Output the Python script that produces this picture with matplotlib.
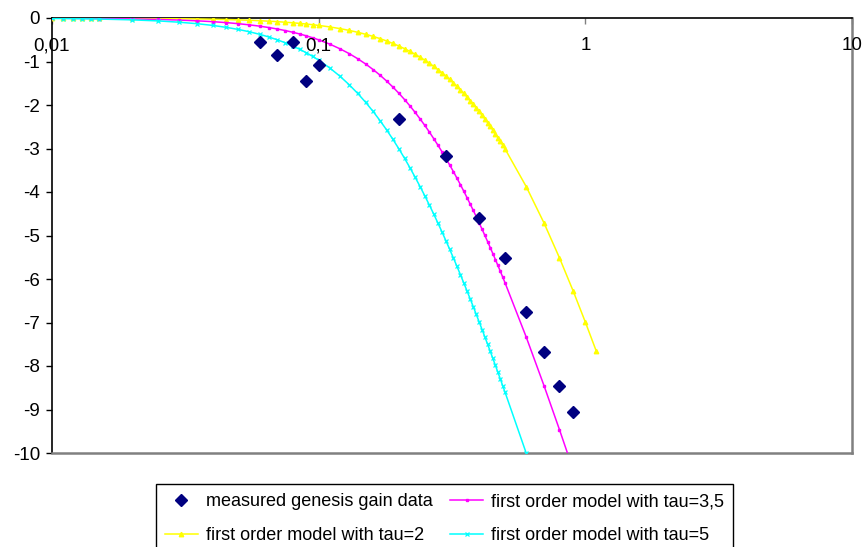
import matplotlib
matplotlib.use("Agg")
import matplotlib.pyplot as plt
import matplotlib.transforms as mtransforms

plt.rcParams['font.family'] = ['Liberation Sans', 'DejaVu Sans']

# ---- data ----
meas_x = [0.06, 0.07, 0.08, 0.09, 0.1, 0.2, 0.3, 0.4, 0.5, 0.6, 0.7, 0.8, 0.9]
meas_y = [-0.55, -0.85, -0.55, -1.45, -1.08, -2.32, -3.17, -4.60, -5.52, -6.76, -7.68, -8.46, -9.05]

model_x = [0.01, 0.011, 0.012, 0.013, 0.014, 0.015, 0.02, 0.025, 0.03, 0.035,
           0.04, 0.045, 0.05, 0.055, 0.06, 0.065, 0.07, 0.075, 0.08, 0.085,
           0.09, 0.095, 0.1, 0.11, 0.12, 0.13, 0.14, 0.15, 0.16, 0.17,
           0.18, 0.19, 0.2, 0.21, 0.22, 0.23, 0.24, 0.25, 0.26, 0.27,
           0.28, 0.29, 0.3, 0.31, 0.32, 0.33, 0.34, 0.35, 0.36, 0.37,
           0.38, 0.39, 0.4, 0.41, 0.42, 0.43, 0.44, 0.45, 0.46, 0.47,
           0.48, 0.49, 0.5, 0.6, 0.7, 0.8, 0.9, 1.0, 1.1]

tau2_y = [-0.002, -0.002, -0.003, -0.003, -0.003, -0.004, -0.007, -0.011, -0.016, -0.021,
          -0.028, -0.035, -0.043, -0.052, -0.062, -0.073, -0.084, -0.097, -0.110, -0.124,
          -0.139, -0.154, -0.170, -0.205, -0.243, -0.284, -0.328, -0.374, -0.423, -0.475,
          -0.529, -0.586, -0.645, -0.706, -0.769, -0.834, -0.901, -0.969, -1.039, -1.111,
          -1.185, -1.259, -1.335, -1.413, -1.491, -1.570, -1.651, -1.732, -1.814, -1.897,
          -1.980, -2.064, -2.148, -2.233, -2.319, -2.405, -2.491, -2.577, -2.663, -2.750,
          -2.837, -2.923, -3.010, -3.874, -4.713, -5.515, -6.274, -6.990, -7.664]

tau35_x = model_x[:67]
tau35_y = [-0.005, -0.006, -0.008, -0.009, -0.010, -0.012, -0.021, -0.033, -0.048, -0.065,
           -0.084, -0.106, -0.131, -0.158, -0.187, -0.219, -0.253, -0.289, -0.328, -0.368,
           -0.411, -0.455, -0.502, -0.600, -0.706, -0.817, -0.935, -1.057, -1.185, -1.316,
           -1.452, -1.590, -1.732, -1.876, -2.022, -2.170, -2.319, -2.469, -2.620, -2.772,
           -2.923, -3.075, -3.227, -3.379, -3.530, -3.681, -3.831, -3.980, -4.129, -4.277,
           -4.423, -4.569, -4.713, -4.856, -4.998, -5.139, -5.278, -5.417, -5.553, -5.689,
           -5.823, -5.956, -6.088, -7.332, -8.453, -9.465, -10.383]

tau5_x = model_x[:64]
tau5_y = [-0.011, -0.013, -0.016, -0.018, -0.021, -0.024, -0.043, -0.067, -0.097, -0.131,
          -0.170, -0.215, -0.263, -0.317, -0.374, -0.436, -0.502, -0.571, -0.645, -0.721,
          -0.801, -0.884, -0.969, -1.148, -1.335, -1.531, -1.732, -1.938, -2.148, -2.362,
          -2.577, -2.793, -3.010, -3.227, -3.444, -3.660, -3.874, -4.087, -4.298, -4.506,
          -4.713, -4.917, -5.119, -5.318, -5.515, -5.708, -5.900, -6.088, -6.274, -6.457,
          -6.637, -6.815, -6.990, -7.162, -7.332, -7.499, -7.664, -7.826, -7.986, -8.144,
          -8.299, -8.453, -8.603, -10.000]

xtick_vals = [0.01, 0.1, 1, 10]
xtick_labels = ["0,01", "0,1", "1", "10"]
ytick_vals = [0, -1, -2, -3, -4, -5, -6, -7, -8, -9, -10]
ytick_labels = ["0", "-1", "-2", "-3", "-4", "-5", "-6", "-7", "-8", "-9", "-10"]

labels = ["measured genesis gain data", "first order model with tau=2",
          "first order model with tau=3,5", "first order model with tau=5"]

# ---- figure ----
fig = plt.figure(figsize=(8.66, 5.47), dpi=100)
ax = fig.add_axes([52/866, 1-453/547, 800/866, 435/547])

h_meas, = ax.plot(meas_x, meas_y, linestyle='none', marker='D', markersize=6.5,
                  color='#000080', zorder=5)
h2, = ax.plot(model_x, tau2_y, color='#FFFF00', lw=1.1, marker='^', markersize=3.2,
              zorder=3)
h35, = ax.plot(tau35_x, tau35_y, color='#FF00FF', lw=1.1, marker='s', markersize=1.7,
               zorder=3)
h5, = ax.plot(tau5_x, tau5_y, color='#00FFFF', lw=1.1, marker='x', markersize=3.5,
              markeredgewidth=0.9, zorder=3)

ax.set_xscale('log')
ax.set_xlim(0.01, 10)
ax.set_ylim(-10, 0)

ax.set_xticks(xtick_vals)
ax.set_xticklabels([])
ax.xaxis.set_minor_locator(matplotlib.ticker.NullLocator())
ax.tick_params(axis='x', bottom=False, top=True, labelbottom=False, labeltop=False,
               direction='in', length=4, width=1, color='#808080')
ax.set_yticks(ytick_vals)
ax.set_yticklabels(ytick_labels)
ax.tick_params(axis='y', direction='out', length=4, width=1, labelsize=13.5, pad=4.5)

trans = mtransforms.blended_transform_factory(ax.transData, ax.transAxes)
trans = mtransforms.offset_copy(trans, fig=fig, x=0, y=-28, units='dots')
for xv, lab in zip(xtick_vals, xtick_labels):
    ax.text(xv, 1.0, lab, transform=trans, ha='center', va='center', fontsize=13.5,
            zorder=6)

for side in ['top', 'left']:
    ax.spines[side].set_color('black')
    ax.spines[side].set_linewidth(1.2)
for side in ['bottom', 'right']:
    ax.spines[side].set_color('#808080')
    ax.spines[side].set_linewidth(1.8)

leg = fig.legend([h_meas, h2, h35, h5], labels, ncol=2, loc='upper left',
                 bbox_to_anchor=(156/866, 1-484/547), borderaxespad=0, fontsize=13,
                 frameon=True, fancybox=False, edgecolor='black', framealpha=1,
                 handlelength=1.8, handletextpad=0.45, columnspacing=1.0,
                 labelspacing=0.95, borderpad=0.5, markerscale=1.0)
leg.get_frame().set_linewidth(1.0)
for lh in leg.legend_handles[:1]:
    lh.set_markersize(6)

fig.savefig("out.png", dpi=100)
